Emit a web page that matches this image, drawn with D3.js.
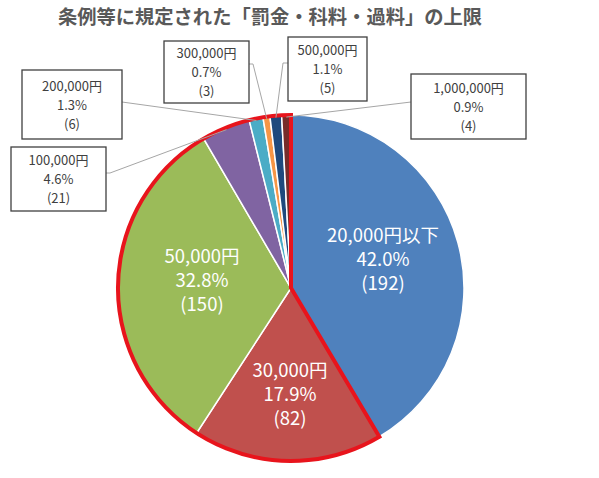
<!DOCTYPE html>
<html>
<head>
<meta charset="utf-8">
<script src="https://cdn.jsdelivr.net/npm/d3@7"></script>
<style>
  body { margin: 0; background: #fff; }
  text { font-family: "Noto Sans CJK JP", sans-serif; }
</style>
</head>
<body>
<div id="chart"></div>
<script>
// data (clockwise from 12 o'clock)
const categories = ["20,000円以下", "30,000円", "50,000円", "100,000円", "200,000円", "300,000円", "500,000円", "1,000,000円"];
const counts = [192, 82, 150, 21, 6, 3, 5, 4];
const percents = ["42.0%", "17.9%", "32.8%", "4.6%", "1.3%", "0.7%", "1.1%", "0.9%"];
const colors = ["#4f81bd", "#c0504d", "#9bbb59", "#8064a2", "#4bacc6", "#f79646", "#1f497d", "#772c2a"];

const W = 599, H = 478;
const CX = 291, CY = 288, R = 173;

// callout boxes for the small slices: [x, y, w, h] plus elbow of leader line
const CALLOUTS = {
  3: { box: [11, 147, 95, 64], from: [106, 173], elbow: [110, 173] },
  4: { box: [22, 70, 100, 69], from: [122, 102], elbow: null },
  5: { box: [164, 41, 85, 62], from: [249, 64], elbow: [253, 64] },
  6: { box: [288, 37, 79, 64], from: [288, 63], elbow: [283, 63] },
  7: { box: [411, 74, 115, 65], from: [411, 102], elbow: null }
};

const svg = d3.select("#chart").append("svg")
  .attr("width", W)
  .attr("height", H);

// TITLE
svg.append("text")
  .attr("x", 270)
  .attr("y", 24)
  .attr("text-anchor", "middle")
  .style("font-size", "19.3px")
  .style("font-weight", "bold")
  .style("fill", "#595959")
  .text("条例等に規定された「罰金・科料・過料」の上限");

const pie = d3.pie().sort(null).value(d => d)(counts);
const arc = d3.arc().innerRadius(0).outerRadius(R);

const g = svg.append("g").attr("transform", `translate(${CX},${CY})`);

// SLICES
g.selectAll("path.slice")
  .data(pie)
  .join("path")
  .attr("class", "slice")
  .attr("d", arc)
  .style("fill", (d, i) => colors[i])
  .style("stroke", "#fff")
  .style("stroke-width", 1.5);

// RED OUTLINE round every slice except the first
const outline = d3.arc().innerRadius(0).outerRadius(R)
  .startAngle(pie[1].startAngle)
  .endAngle(pie[pie.length - 1].endAngle);
g.append("path")
  .attr("d", outline())
  .style("fill", "none")
  .style("stroke", "#e8141c")
  .style("stroke-width", 4)
  .style("stroke-linejoin", "miter");

// LABELS INSIDE THE BIG SLICES
const inside = { 0: [92, -46], 1: [-1, 89], 2: [-89, -25] };
Object.keys(inside).forEach(k => {
  const i = +k;
  const t = g.append("text")
    .attr("text-anchor", "middle")
    .style("font-size", "18.5px")
    .style("fill", "#fff");
  [categories[i], percents[i], `(${counts[i]})`].forEach((s, j) => {
    t.append("tspan")
      .attr("x", inside[k][0])
      .attr("y", inside[k][1] + j * 24)
      .text(s);
  });
});

// CALLOUTS FOR THE SMALL SLICES
Object.keys(CALLOUTS).forEach(k => {
  const i = +k;
  const c = CALLOUTS[k];
  const a = (pie[i].startAngle + pie[i].endAngle) / 2;
  const px = CX + Math.sin(a) * (R - 2);
  const py = CY - Math.cos(a) * (R - 2);
  const pts = [c.from];
  if (c.elbow) pts.push(c.elbow);
  pts.push([px, py]);

  svg.append("path")
    .attr("d", d3.line()(pts))
    .style("fill", "none")
    .style("stroke", "#a6a6a6")
    .style("stroke-width", 1);

  const [bx, by, bw, bh] = c.box;
  svg.append("rect")
    .attr("x", bx)
    .attr("y", by)
    .attr("width", bw)
    .attr("height", bh)
    .style("fill", "#fff")
    .style("stroke", "#404040")
    .style("stroke-width", 1.3);

  const t = svg.append("text")
    .attr("text-anchor", "middle")
    .style("font-size", "13px")
    .style("fill", "#404040");
  [categories[i], percents[i], `(${counts[i]})`].forEach((s, j) => {
    t.append("tspan")
      .attr("x", bx + bw / 2)
      .attr("y", by + bh / 2 - 14 + j * 19)
      .text(s);
  });
});
</script>
</body>
</html>
